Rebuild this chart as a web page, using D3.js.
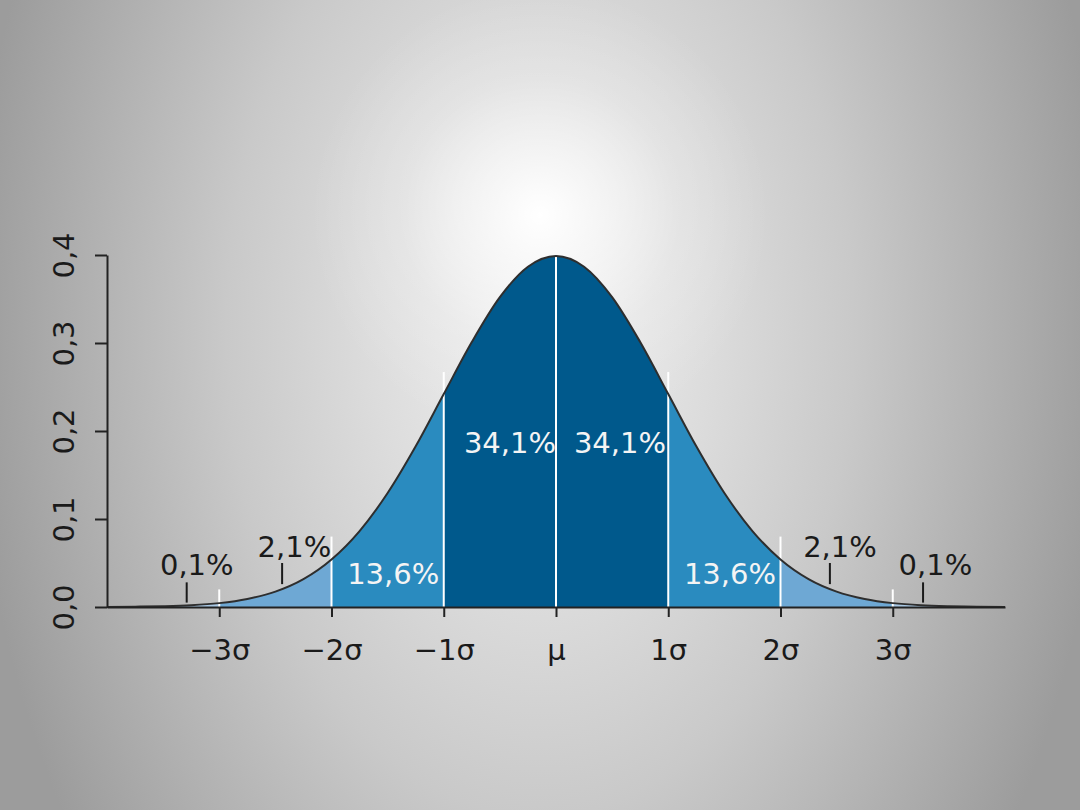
<!DOCTYPE html>
<html>
<head>
<meta charset="utf-8">
<script src="https://cdn.jsdelivr.net/npm/d3@7"></script>
<style>
  html, body { margin: 0; padding: 0; background: #a0a0a0; }
  svg { display: block; }
  text { font-family: "DejaVu Sans", sans-serif; }
</style>
</head>
<body>
<script>
// ---------- data ----------
const xs = [-4, -3.75, -3.5, -3.25, -3, -2.75, -2.5, -2.25, -2, -1.75, -1.5, -1.25, -1, -0.75, -0.5, -0.25,
            0, 0.25, 0.5, 0.75, 1, 1.25, 1.5, 1.75, 2, 2.25, 2.5, 2.75, 3, 3.25, 3.5, 3.75, 4];
const density = [0.0001, 0.0004, 0.0009, 0.0020, 0.0044, 0.0091, 0.0175, 0.0317, 0.0540, 0.0863, 0.1295, 0.1826,
                 0.2420, 0.3011, 0.3521, 0.3867, 0.3989, 0.3867, 0.3521, 0.3011, 0.2420, 0.1826, 0.1295, 0.0863,
                 0.0540, 0.0317, 0.0175, 0.0091, 0.0044, 0.0020, 0.0009, 0.0004, 0.0001];
// shaded bands: [from, to, colour]
const bandFrom = [-4, -3, -2, -1, 1, 2, 3];
const bandTo   = [-3, -2, -1, 1, 2, 3, 4];
const bandColor = ["#a9c8e4", "#6ea8d4", "#2a8bbf", "#00598c", "#2a8bbf", "#6ea8d4", "#a9c8e4"];
// separators at sigma positions and their top value
const sepX = [-3, -2, -1, 0, 1, 2, 3];
const sepTop = [0.020, 0.080, 0.267, 0.3989, 0.267, 0.080, 0.020];
// x axis
const xTickVals = [-3, -2, -1, 0, 1, 2, 3];
const xTickLabels = ["\u22123\u03c3", "\u22122\u03c3", "\u22121\u03c3", "\u03bc", "1\u03c3", "2\u03c3", "3\u03c3"];
// y axis
const yTickVals = [0, 0.1, 0.2, 0.3, 0.4];
const yTickLabels = ["0,0", "0,1", "0,2", "0,3", "0,4"];
// inner percentage labels (white)
const innerLabels = ["13,6%", "34,1%", "34,1%", "13,6%"];
const innerX = [-1.45, -0.41, 0.57, 1.55];
const innerY = [0.026, 0.175, 0.175, 0.026];
// outer percentage labels (black) with pointer ticks
const outerLabels = ["0,1%", "2,1%", "2,1%", "0,1%"];
const outerX = [-3.2, -2.33, 2.53, 3.38];
const outerY = [0.036, 0.057, 0.057, 0.036];
const pointerX = [-3.29, -2.44, 2.44, 3.27];
const pointerY0 = [0.005, 0.026, 0.026, 0.005];
const pointerY1 = [0.028, 0.050, 0.050, 0.028];

// ---------- layout ----------
const W = 1080, H = 810;
const FS = "29px";
const svg = d3.select("body").append("svg").attr("width", W).attr("height", H);
const defs = svg.append("defs");

// background gradients
const g1 = defs.append("radialGradient").attr("id", "bg")
  .attr("gradientUnits", "userSpaceOnUse")
  .attr("cx", 540).attr("cy", 330).attr("r", 570)
  .attr("gradientTransform", "translate(540,330) scale(1,1.55) translate(-540,-330)");
[[0, "#f0f0f0"], [0.3, "#dcdcdc"], [0.55, "#c9c9c9"], [0.8, "#b0b0b0"], [0.95, "#a1a1a1"], [1, "#9c9c9c"]]
  .forEach(([o, c]) => g1.append("stop").attr("offset", o).attr("stop-color", c));
const g2 = defs.append("radialGradient").attr("id", "spot")
  .attr("gradientUnits", "userSpaceOnUse")
  .attr("cx", 540).attr("cy", 215).attr("r", 230);
[[0, 1], [0.2, 0.7], [0.6, 0.2], [1, 0]]
  .forEach(([o, a]) => g2.append("stop").attr("offset", o).attr("stop-color", "#fff").attr("stop-opacity", a));

svg.append("rect").attr("width", W).attr("height", H).attr("fill", "url(#bg)");
svg.append("rect").attr("width", W).attr("height", H).attr("fill", "url(#spot)");

const x = d3.scaleLinear().domain([-4, 4]).range([107, 1005]);
const y = d3.scaleLinear().domain([0, 0.4]).range([607, 255]);

const pts = xs.map((v, i) => ({ x: v, y: density[i] }));

const area = d3.area().x(d => x(d.x)).y0(y(0)).y1(d => y(d.y)).curve(d3.curveMonotoneX);
const line = d3.line().x(d => x(d.x)).y(d => y(d.y)).curve(d3.curveMonotoneX);

// bands via clip paths
bandFrom.forEach((f, i) => {
  defs.append("clipPath").attr("id", "clip" + i)
    .append("rect")
    .attr("x", x(f)).attr("y", 0)
    .attr("width", x(bandTo[i]) - x(f)).attr("height", H);
  svg.append("path").datum(pts)
    .attr("d", area)
    .attr("fill", bandColor[i])
    .attr("clip-path", `url(#clip${i})`);
});

// separators
svg.append("g").selectAll("line").data(sepX).join("line")
  .attr("x1", d => x(d)).attr("x2", d => x(d))
  .attr("y1", y(0)).attr("y2", (d, i) => y(sepTop[i]))
  .attr("stroke", "#ffffff").attr("stroke-width", 2);

// curve
svg.append("path").datum(pts)
  .attr("d", line)
  .attr("fill", "none")
  .attr("stroke", "#2e2e2e")
  .attr("stroke-width", 2);

// x axis
const xAxis = svg.append("g").attr("transform", `translate(0,${y(0)})`)
  .call(d3.axisBottom(x).tickValues(xTickVals).tickFormat((d, i) => xTickLabels[i]).tickSize(10).tickPadding(22).tickSizeOuter(0));
xAxis.select(".domain").attr("stroke", "#222").attr("stroke-width", 2.2);
xAxis.selectAll(".tick line").attr("stroke", "#222").attr("stroke-width", 2);
xAxis.selectAll(".tick text").attr("fill", "#1a1a1a").style("font-size", FS).style("font-family", "DejaVu Sans");

// y axis
const yAxis = svg.append("g").attr("transform", `translate(${x(-4)},0)`)
  .call(d3.axisLeft(y).tickValues(yTickVals).tickFormat((d, i) => yTickLabels[i]).tickSize(12).tickSizeOuter(0));
yAxis.select(".domain").attr("stroke", "#222").attr("stroke-width", 2);
yAxis.selectAll(".tick line").attr("stroke", "#222").attr("stroke-width", 2);
yAxis.selectAll(".tick text")
  .attr("fill", "#1a1a1a").style("font-size", FS).style("font-family", "DejaVu Sans")
  .attr("text-anchor", "middle").attr("dy", 0)
  .attr("transform", "translate(-33,0) rotate(-90)")
  .attr("x", 0).attr("y", 0);

// pointer ticks
svg.append("g").selectAll("line").data(pointerX).join("line")
  .attr("x1", d => x(d)).attr("x2", d => x(d))
  .attr("y1", (d, i) => y(pointerY0[i])).attr("y2", (d, i) => y(pointerY1[i]))
  .attr("stroke", "#1a1a1a").attr("stroke-width", 2);

// outer labels
svg.append("g").selectAll("text").data(outerLabels).join("text")
  .attr("x", (d, i) => x(outerX[i])).attr("y", (d, i) => y(outerY[i]))
  .attr("text-anchor", "middle")
  .attr("fill", "#1a1a1a").style("font-size", FS)
  .text(d => d);

// inner labels
svg.append("g").selectAll("text").data(innerLabels).join("text")
  .attr("x", (d, i) => x(innerX[i])).attr("y", (d, i) => y(innerY[i]))
  .attr("text-anchor", "middle")
  .attr("fill", "#f4f4f4").style("font-size", FS)
  .text(d => d);
</script>
</body>
</html>
